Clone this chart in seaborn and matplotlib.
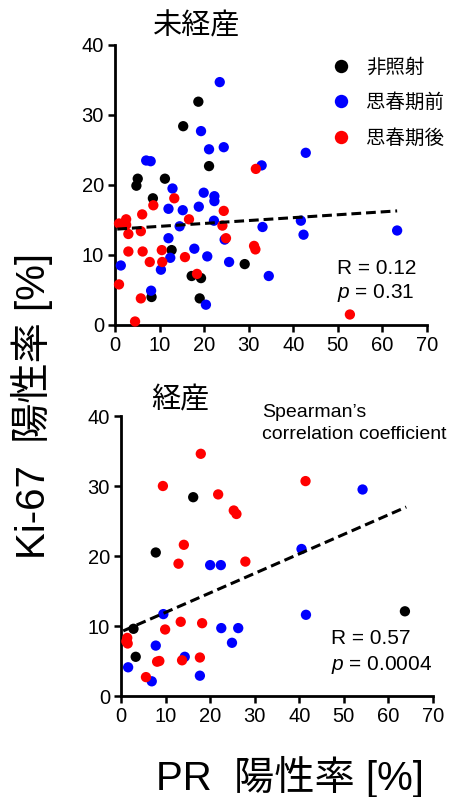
import numpy as np
import pandas as pd
import matplotlib
matplotlib.use("Agg")
import matplotlib.pyplot as plt
import seaborn as sns

# ---------------- data ----------------
groups = ["非照射", "思春期前", "思春期後"]
colors = ["#000000", "#0000ff", "#ff0000"]

# 未経産 (nulliparous)
top_black_x = [18.7, 15.3, 21.1, 5.1, 4.8, 11.2, 8.5, 12.7, 17.2, 19.3, 19.0, 8.2, 29.1]
top_black_y = [31.9, 28.4, 22.7, 20.9, 19.9, 20.9, 18.1, 10.7, 7.0, 6.7, 3.8, 4.0, 8.7]
top_blue_x = [23.5, 19.3, 21.1, 24.4, 7.0, 8.0, 12.9, 19.9, 22.3, 22.3, 32.9, 12.0, 15.2,
              18.8, 14.5, 22.2, 12.0, 17.8, 20.7, 12.4, 10.3, 1.3, 25.6, 8.1, 20.4, 33.1,
              24.6, 42.8, 41.7, 42.3, 63.3, 34.5]
top_blue_y = [34.7, 27.7, 25.1, 25.4, 23.5, 23.4, 19.5, 18.9, 18.4, 17.7, 22.8, 16.6, 16.4,
              16.9, 14.1, 14.9, 12.4, 10.9, 9.8, 9.6, 7.9, 8.5, 9.0, 4.9, 2.9, 14.0,
              12.2, 24.6, 14.9, 12.9, 13.5, 7.0]
top_red_x = [31.6, 13.3, 0.9, 2.5, 2.5, 3.0, 5.8, 6.1, 8.6, 16.6, 24.4, 24.1, 24.9, 3.0,
             6.2, 10.5, 7.8, 10.6, 15.7, 18.4, 0.9, 5.8, 4.5, 31.2, 31.5, 52.7]
top_red_y = [22.3, 18.1, 14.5, 15.1, 14.3, 13.0, 13.4, 15.8, 17.1, 15.1, 16.3, 14.2, 12.4, 10.5,
             10.5, 10.7, 9.0, 9.0, 9.7, 7.3, 5.8, 3.8, 0.5, 11.3, 10.8, 1.5]
top_fit_x = [0.5, 63.3]
top_fit_y = [13.7, 16.3]

# 経産 (parous)
bot_black_x = [16.2, 7.8, 63.7, 2.8, 3.3]
bot_black_y = [28.4, 20.5, 12.1, 9.6, 5.6]
bot_blue_x = [20.0, 22.4, 54.2, 40.5, 41.5, 9.5, 22.5, 26.3, 24.9, 7.8, 1.6, 14.3, 17.7, 6.9]
bot_blue_y = [18.7, 18.7, 29.5, 21.0, 11.6, 11.7, 9.7, 9.7, 7.6, 7.2, 4.1, 5.6, 2.9, 2.1]
bot_red_x = [17.9, 9.4, 21.8, 25.3, 25.9, 14.1, 12.9, 27.9, 41.4, 1.4, 1.2, 1.5, 9.9, 13.4,
             18.2, 8.1, 8.6, 13.7, 17.7, 5.6]
bot_red_y = [34.6, 30.0, 28.8, 26.5, 26.0, 21.6, 18.9, 19.2, 30.7, 8.3, 7.8, 7.5, 9.5, 10.6,
             10.4, 4.9, 5.0, 5.1, 5.5, 2.7]
bot_fit_x = [0.5, 64.0]
bot_fit_y = [9.3, 27.0]

x_ticks = [0, 10, 20, 30, 40, 50, 60, 70]
y_ticks = [0, 10, 20, 30, 40]
titles = ["未経産", "経産"]
stats = [("0.12", "0.31"), ("0.57", "0.0004")]


def make_df(bx, by, ux, uy, rx, ry):
    return pd.concat([
        pd.DataFrame({"PR": bx, "Ki67": by, "group": groups[0]}),
        pd.DataFrame({"PR": ux, "Ki67": uy, "group": groups[1]}),
        pd.DataFrame({"PR": rx, "Ki67": ry, "group": groups[2]}),
    ], ignore_index=True)


df_top = make_df(top_black_x, top_black_y, top_blue_x, top_blue_y, top_red_x, top_red_y)
df_bot = make_df(bot_black_x, bot_black_y, bot_blue_x, bot_blue_y, bot_red_x, bot_red_y)

# ---------------- style ----------------
sns.set_theme(style="ticks")
plt.rcParams["font.family"] = ["Liberation Sans", "Noto Sans CJK JP", "DejaVu Sans"]
plt.rcParams["mathtext.fontset"] = "custom"
plt.rcParams["mathtext.it"] = "Liberation Sans:italic"
plt.rcParams["mathtext.rm"] = "Liberation Sans"
plt.rcParams["text.color"] = "black"
plt.rcParams["axes.labelcolor"] = "black"
plt.rcParams["xtick.color"] = "black"
plt.rcParams["ytick.color"] = "black"

W, H = 462, 797
fig = plt.figure(figsize=(W / 100, H / 100), dpi=100)
ax_top = fig.add_axes([115 / W, 1 - 325 / H, 312 / W, 280 / H])
ax_bot = fig.add_axes([121 / W, 1 - 696 / H, 312 / W, 280 / H])

palette = dict(zip(groups, colors))

for ax, df, fx, fy, leg in [
    (ax_top, df_top, top_fit_x, top_fit_y, True),
    (ax_bot, df_bot, bot_fit_x, bot_fit_y, False),
]:
    sns.scatterplot(data=df, x="PR", y="Ki67", hue="group", palette=palette,
                    hue_order=groups, s=55, linewidth=0, ax=ax, legend=leg,
                    clip_on=False, zorder=3)
    sns.lineplot(x=fx, y=fy, ax=ax, color="black", linestyle=(0, (3.2, 1.6)),
                 linewidth=2.2, zorder=4)
    ax.set_xlim(0, 70)
    ax.set_ylim(0, 40)
    ax.set_xticks(x_ticks)
    ax.set_yticks(y_ticks)
    ax.set_xlabel("")
    ax.set_ylabel("")
    for side in ["top", "right"]:
        ax.spines[side].set_visible(False)
    for side in ["left", "bottom"]:
        ax.spines[side].set_linewidth(2.0)
        ax.spines[side].set_color("black")
    ax.tick_params(axis="both", direction="out", length=5, width=1.8,
                   labelsize=14.5, colors="black", pad=3)
    ax.set_facecolor("white")

# panel titles
ax_top.text(0.263, 1.068, titles[0], transform=ax_top.transAxes, fontsize=21,
            ha="center", va="center")
ax_bot.text(0.189, 1.054, titles[1], transform=ax_bot.transAxes, fontsize=21,
            ha="center", va="center")

# stats text
ax_top.text(49.8, 8.0, "R = " + stats[0][0], fontsize=15, ha="left", va="center")
ax_top.text(49.8, 4.6, r"$\it{p}$" + " = " + stats[0][1], fontsize=15, ha="left", va="center")
ax_bot.text(47.2, 8.2, "R = " + stats[1][0], fontsize=15, ha="left", va="center")
ax_bot.text(47.2, 4.5, r"$\it{p}$" + " = " + stats[1][1], fontsize=15, ha="left", va="center")

ax_bot.text(0.452, 0.973, "Spearman\u2019s\ncorrelation coefficient", transform=ax_bot.transAxes,
            fontsize=14, ha="left", va="center", linespacing=1.35)

# legend
leg = ax_top.legend(loc="upper left", bbox_to_anchor=(0.668, 0.98), frameon=False,
                    fontsize=14, handlelength=1.0, handletextpad=0.8, labelspacing=0.85,
                    markerscale=1.3, borderaxespad=0)

fig.text(290 / W, 1 - 777 / H, "PR  陽性率 [%]", fontsize=29, ha="center", va="center")
fig.text(32 / W, 0.49, "Ki-67  陽性率 [%]", fontsize=29, ha="center", va="center",
         rotation=90)

fig.savefig("out.png", dpi=100, facecolor="white")
